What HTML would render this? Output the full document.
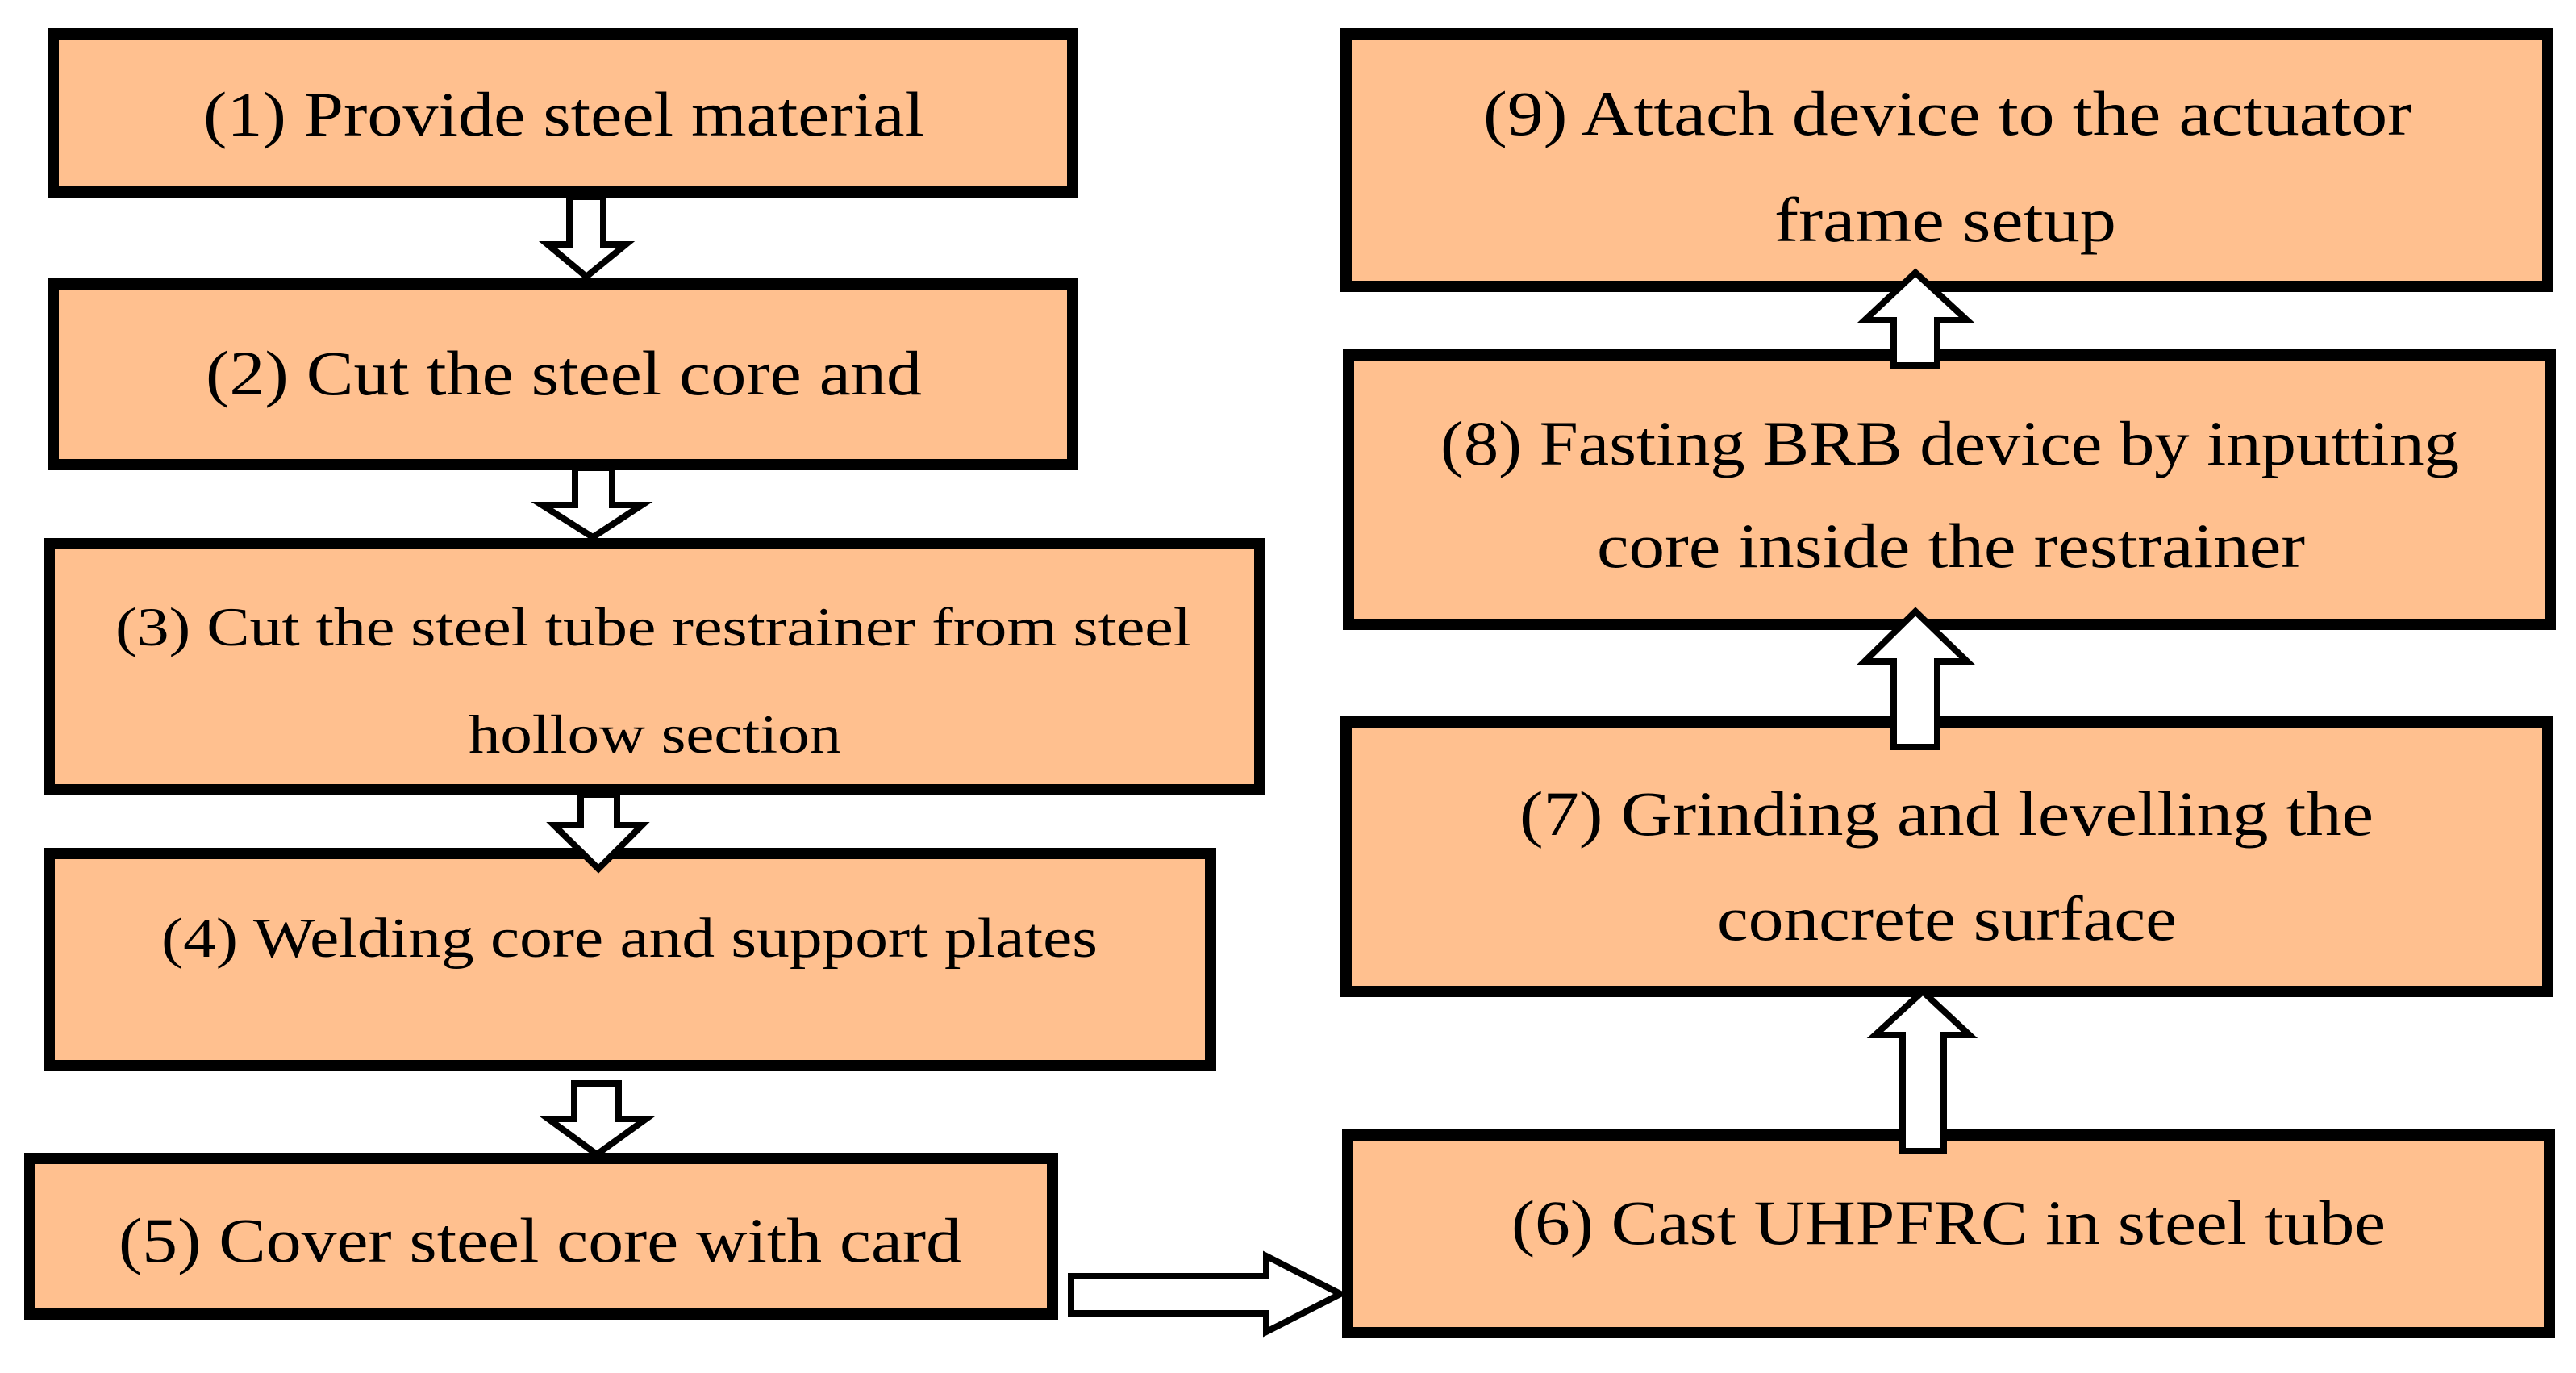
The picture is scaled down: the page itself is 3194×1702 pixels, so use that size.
<!DOCTYPE html>
<html><head><meta charset="utf-8"><style>
html,body{margin:0;padding:0;background:#fff;}
svg{display:block;}
.t text{font-family:"Liberation Serif","Times New Roman",Times,serif;fill:#000;}
</style></head><body>
<svg width="3194" height="1702" viewBox="0 0 3194 1702" xmlns="http://www.w3.org/2000/svg">
<g fill="#FFC08F" stroke="#000" stroke-width="14">
<rect x="66" y="42" width="1264" height="196"/>
<rect x="66" y="352" width="1264" height="224"/>
<rect x="61" y="674" width="1501" height="305"/>
<rect x="61" y="1058" width="1440" height="263"/>
<rect x="37" y="1436" width="1268" height="193"/>
<rect x="1669" y="42" width="1490" height="313"/>
<rect x="1672" y="440" width="1490" height="334"/>
<rect x="1669" y="895" width="1490" height="334"/>
<rect x="1671" y="1407" width="1490" height="245"/>
</g>
<g fill="#fff" stroke="#000" stroke-width="8" stroke-linejoin="miter">
<polygon points="706,244 748,244 748,303 776,303 727,343 679,303 706,303"/>
<polygon points="713,580 759,580 759,626 796,626 735,666 672,626 713,626"/>
<polygon points="720,985 765,985 765,1023 796,1023 742,1077 687,1023 720,1023"/>
<polygon points="712,1343 767,1343 767,1387 801,1387 740,1431 680,1387 712,1387"/>
<polygon points="1328,1582 1570,1582 1570,1557 1662,1604 1570,1651 1570,1628 1328,1628"/>
<polygon points="2359,1427 2410,1427 2410,1283 2442,1283 2384,1229 2325,1283 2359,1283"/>
<polygon points="2348,926 2402,926 2402,820 2439,820 2375,758 2312,820 2348,820"/>
<polygon points="2348,453 2402,453 2402,397 2439,397 2375,338 2312,397 2348,397"/>
</g>
<g class="t" font-family="Liberation Serif, serif" font-size="78">
<text x="252" y="168" textLength="894" lengthAdjust="spacingAndGlyphs">(1) Provide steel material</text>
<text x="255" y="489" textLength="888" lengthAdjust="spacingAndGlyphs">(2) Cut the steel core and</text>
<text x="143" y="800" font-size="68" textLength="1334" lengthAdjust="spacingAndGlyphs">(3) Cut the steel tube restrainer from steel</text>
<text x="581" y="933" font-size="68" textLength="462" lengthAdjust="spacingAndGlyphs">hollow section</text>
<text x="200" y="1186" font-size="70" textLength="1161" lengthAdjust="spacingAndGlyphs">(4) Welding core and support plates</text>
<text x="147" y="1564" textLength="1045" lengthAdjust="spacingAndGlyphs">(5) Cover steel core with card</text>
<text x="1839" y="167" textLength="1151" lengthAdjust="spacingAndGlyphs">(9) Attach device to the actuator</text>
<text x="2200" y="299" textLength="424" lengthAdjust="spacingAndGlyphs">frame setup</text>
<text x="1786" y="576" textLength="1263" lengthAdjust="spacingAndGlyphs">(8) Fasting BRB device by inputting</text>
<text x="1980" y="703" textLength="878" lengthAdjust="spacingAndGlyphs">core inside the restrainer</text>
<text x="1884" y="1035" textLength="1059" lengthAdjust="spacingAndGlyphs">(7) Grinding and levelling the</text>
<text x="2129" y="1165" textLength="570" lengthAdjust="spacingAndGlyphs">concrete surface</text>
<text x="1874" y="1542" textLength="1084" lengthAdjust="spacingAndGlyphs">(6) Cast UHPFRC in steel tube</text>
</g>
</svg>
</body></html>
